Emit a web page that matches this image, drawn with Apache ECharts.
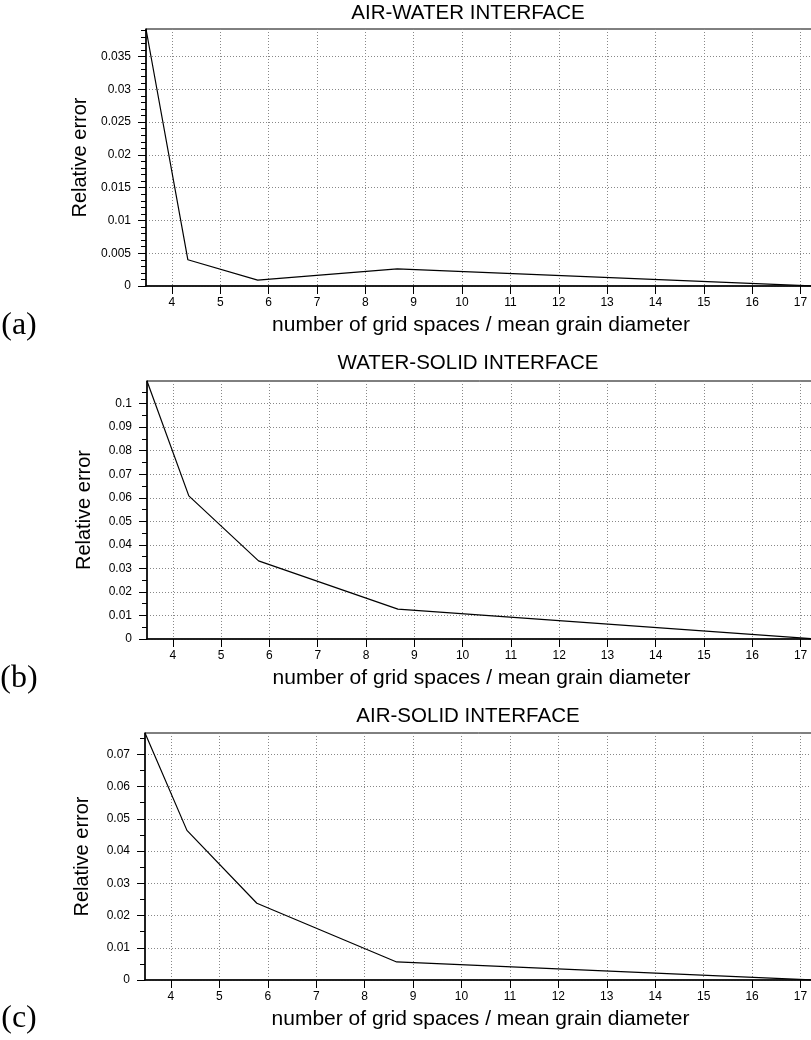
<!DOCTYPE html>
<html><head><meta charset="utf-8">
<script src="https://cdn.jsdelivr.net/npm/echarts@6/dist/echarts.min.js"></script>
<style>html,body{margin:0;padding:0;background:#fff}#c{width:811px;height:1040px}</style>
</head><body><div id="c"></div>
<script>
// ---- data ----
const gridSpacing   = [3.464, 4.330, 5.774, 8.660, 17.32];
const errAirWater   = [0.0392, 0.0040, 0.0009, 0.0026, 0];
const errWaterSolid = [0.1096, 0.0608, 0.0332, 0.0127, 0];
const errAirSolid   = [0.0766, 0.0464, 0.0238, 0.0056, 0];
const panelTitles = ['AIR-WATER INTERFACE', 'WATER-SOLID INTERFACE', 'AIR-SOLID INTERFACE'];
const panelLabels = ['(a)', '(b)', '(c)'];
const xName = 'number of grid spaces / mean grain diameter';
const yName = 'Relative error';
const xTicks = [4, 5, 6, 7, 8, 9, 10, 11, 12, 13, 14, 15, 16, 17];
const yTicksA = [0, 0.005, 0.01, 0.015, 0.02, 0.025, 0.03, 0.035];
const yMinorA = [0.001, 0.002, 0.003, 0.004, 0.006, 0.007, 0.008, 0.009, 0.011, 0.012, 0.013, 0.014,
                 0.016, 0.017, 0.018, 0.019, 0.021, 0.022, 0.023, 0.024, 0.026, 0.027, 0.028, 0.029,
                 0.031, 0.032, 0.033, 0.034, 0.036, 0.037, 0.038, 0.039];
const yTicksB = [0, 0.01, 0.02, 0.03, 0.04, 0.05, 0.06, 0.07, 0.08, 0.09, 0.1];
const yMinorB = [0.005, 0.015, 0.025, 0.035, 0.045, 0.055, 0.065, 0.075, 0.085, 0.095, 0.105];
const yTicksC = [0, 0.01, 0.02, 0.03, 0.04, 0.05, 0.06, 0.07];
const yMinorC = [0.005, 0.015, 0.025, 0.035, 0.045, 0.055, 0.065, 0.075];

// ---- layout ----
const FONT = 'Liberation Sans, Arial, Helvetica, sans-serif';
const panels = [
  {vals: errAirWater, ymax: 0.0392, major: yTicksA, minor: yMinorA, left: 146, top: 29, height: 257, titleY: 13, labelY: 326},
  {vals: errWaterSolid, ymax: 0.1096, major: yTicksB, minor: yMinorB, left: 147, top: 381, height: 258, titleY: 363, labelY: 679},
  {vals: errAirSolid, ymax: 0.0766, major: yTicksC, minor: yMinorC, left: 145, top: 733, height: 247, titleY: 716, labelY: 1019}
];
const xMin = gridSpacing[0], xMax = gridSpacing[gridSpacing.length - 1];

const grid = [], xAxis = [], yAxis = [], series = [], graphic = [];
panels.forEach((p, i) => {
  grid.push({left: p.left, top: p.top, height: p.height, width: 816 - p.left, show: true,
             containLabel: false, outerBoundsMode: 'none',
             borderColor: '#000', borderWidth: 1, backgroundColor: 'transparent'});
  xAxis.push({
    type: 'value', gridIndex: i, min: xMin, max: xMax, position: 'bottom',
    axisLine: {show: true, onZero: false, lineStyle: {color: '#000', width: 1.5}},
    axisTick: {show: true, customValues: xTicks, length: 8, lineStyle: {color: '#000', width: 1}},
    axisLabel: {show: true, customValues: xTicks, color: '#000', fontSize: 12, fontFamily: FONT, margin: 11},
    splitLine: {show: true, lineStyle: {color: '#888', width: 1, type: [1, 2]}},
    name: xName, nameLocation: 'middle', nameGap: 29,
    nameTextStyle: {color: '#000', fontSize: 21, fontFamily: FONT}
  });
  yAxis.push({
    type: 'value', gridIndex: i, min: 0, max: p.ymax, position: 'left',
    axisLine: {show: true, onZero: false, lineStyle: {color: '#000', width: 1.5}},
    axisTick: {show: true, customValues: p.major, length: 8, lineStyle: {color: '#000', width: 1}},
    axisLabel: {show: true, customValues: p.major, color: '#000', fontSize: 12, fontFamily: FONT, margin: 15},
    splitLine: {show: true, lineStyle: {color: '#888', width: 1, type: [1, 2]}},
    name: yName, nameLocation: 'middle', nameGap: 53,
    nameTextStyle: {color: '#000', fontSize: 20, fontFamily: FONT}
  });
  yAxis.push({
    type: 'value', gridIndex: i, min: 0, max: p.ymax, position: 'left', offset: 0,
    axisLine: {show: false},
    axisTick: {show: true, customValues: p.minor, length: 5, lineStyle: {color: '#000', width: 1}},
    axisLabel: {show: false},
    splitLine: {show: false}
  });
  series.push({
    type: 'line', xAxisIndex: i, yAxisIndex: 2 * i,
    data: gridSpacing.map((x, k) => [x, p.vals[k]]),
    showSymbol: false, symbol: 'none', clip: false,
    lineStyle: {color: '#000', width: 1.2}, animation: false
  });
  graphic.push({
    type: 'text', x: 468, y: p.titleY,
    style: {text: panelTitles[i], fill: '#000', font: '20.5px ' + FONT,
            textAlign: 'center', textVerticalAlign: 'middle', align: 'center', verticalAlign: 'middle'}
  });
  graphic.push({
    type: 'text', x: 19, y: p.labelY,
    style: {text: panelLabels[i], fill: '#000', font: '32px "Liberation Serif", "Times New Roman", serif',
            textAlign: 'center', textVerticalAlign: 'middle', align: 'center', verticalAlign: 'middle'}
  });
});

const chart = echarts.init(document.getElementById('c'), null, {renderer: 'canvas'});
chart.setOption({animation: false, backgroundColor: '#fff', grid, xAxis, yAxis, series, graphic});
</script>
</body></html>
